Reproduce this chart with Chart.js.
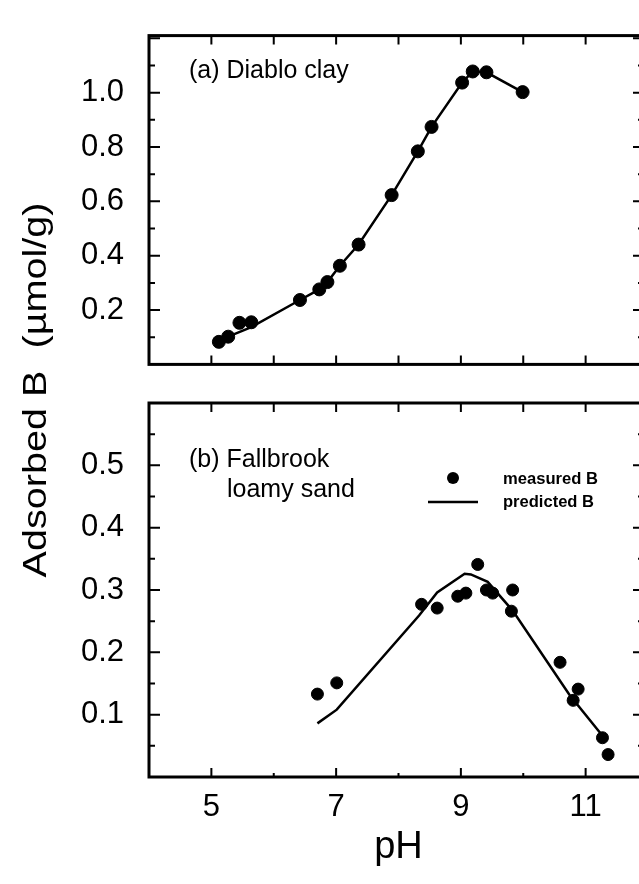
<!DOCTYPE html>
<html>
<head>
<meta charset="utf-8">
<script src="https://cdn.jsdelivr.net/npm/chart.js@4.4.0/dist/chart.umd.min.js"></script>
<style>
html, body { margin: 0; padding: 0; background: #fff; overflow: hidden; }
#wrap { position: relative; width: 660px; height: 884px; }
#wrap canvas { position: absolute; left: 0; top: 0; }
</style>
</head>
<body>
<div id="wrap">
  <canvas id="chartB" width="660" height="884"></canvas>
  <canvas id="chartA" width="660" height="400"></canvas>
</div>
<script>
// (a) Diablo clay
const phMeasuredA = [5.12, 5.27, 5.45, 5.64, 6.42, 6.73, 6.86, 7.06, 7.36, 7.89, 8.31, 8.53, 9.02, 9.19, 9.41, 9.99];
const bMeasuredA  = [0.083, 0.102, 0.153, 0.155, 0.237, 0.276, 0.303, 0.363, 0.441, 0.623, 0.784, 0.874, 1.037, 1.078, 1.075, 1.002];
const phPredictedA = [5.27, 5.64, 6.42, 6.73, 6.86, 7.06, 7.36, 7.89, 8.31, 8.53, 9.02, 9.19, 9.41, 9.99];
const bPredictedA  = [0.102, 0.137, 0.237, 0.276, 0.303, 0.363, 0.441, 0.623, 0.784, 0.874, 1.037, 1.078, 1.075, 1.002];

// (b) Fallbrook loamy sand
const phMeasuredB = [6.70, 7.01, 8.37, 8.62, 8.95, 9.08, 9.27, 9.41, 9.51, 9.83, 9.81, 10.59, 10.88, 10.80, 11.27, 11.36];
const bMeasuredB  = [0.133, 0.151, 0.277, 0.271, 0.290, 0.295, 0.341, 0.300, 0.295, 0.300, 0.266, 0.184, 0.141, 0.123, 0.063, 0.036];
const phPredictedB = [6.70, 7.01, 8.33, 8.62, 9.06, 9.16, 9.43, 9.83, 10.74, 11.28];
const bPredictedB  = [0.086, 0.108, 0.259, 0.296, 0.326, 0.325, 0.313, 0.267, 0.132, 0.065];

// tick labels
const xTickLabels = [5, 7, 9, 11];
const yTicksA = [0.2, 0.4, 0.6, 0.8, 1.0];
const yTicksB = [0.1, 0.2, 0.3, 0.4, 0.5];

const FONT = "'Liberation Sans', Arial, Helvetica, sans-serif";

function toXY(xs, ys) {
    return xs.map((x, i) => ({ x: x, y: ys[i] }));
}

// draws text, optionally squeezed/stretched to a given width
function putText(ctx, text, x, y, font, width, rotate) {
    ctx.save();
    ctx.font = font;
    ctx.translate(x, y);
    if (rotate) ctx.rotate(rotate);
    if (width) {
        const w = ctx.measureText(text).width;
        ctx.scale(width / w, 1);
    }
    ctx.fillText(text, 0, 0);
    ctx.restore();
}

// box round the plot and the inward ticks on all four sides
const framePlugin = {
    id: 'frame',
    afterDatasetsDraw(chart, args, opts) {
        const ctx = chart.ctx;
        const a = chart.chartArea;
        const x = chart.scales.x;
        const y = chart.scales.y;
        ctx.save();
        ctx.strokeStyle = '#000';
        ctx.lineWidth = 2;
        ctx.beginPath();
        for (let v = 5; v < 12; v++) {
            const px = x.getPixelForValue(v);
            const major = v % 2 === 1;
            const bl = opts.bottomMinorShort && !major ? 4 : 9;
            ctx.moveTo(px, a.bottom);
            ctx.lineTo(px, a.bottom - bl);
            ctx.moveTo(px, a.top);
            ctx.lineTo(px, a.top + 9);
        }
        for (let i = 1; i * opts.yStep < y.max - 1e-9; i++) {
            const py = y.getPixelForValue(i * opts.yStep);
            const major = i % 2 === 0;
            ctx.moveTo(a.left, py);
            ctx.lineTo(a.left + (major ? 11 : 6), py);
            ctx.moveTo(a.right, py);
            ctx.lineTo(a.right - (major ? 15 : 10), py);
        }
        ctx.stroke();
        ctx.lineWidth = 3;
        ctx.strokeRect(a.left, a.top, a.right - a.left, a.bottom - a.top);
        ctx.restore();
    }
};

// panel labels, legend and the shared y title
const notesPlugin = {
    id: 'notes',
    afterDraw(chart, args, opts) {
        const ctx = chart.ctx;
        ctx.save();
        ctx.fillStyle = '#000';
        ctx.textBaseline = 'alphabetic';
        ctx.textAlign = 'left';
        (opts.lines || []).forEach(l => {
            putText(ctx, l.text, l.x, l.y, '25px ' + FONT);
        });
        if (opts.legend) {
            const lg = opts.legend;
            ctx.beginPath();
            ctx.arc(lg.x + 25, lg.y, 6, 0, Math.PI * 2);
            ctx.fill();
            ctx.lineWidth = 2.5;
            ctx.beginPath();
            ctx.moveTo(lg.x, lg.y + 24);
            ctx.lineTo(lg.x + 50, lg.y + 24);
            ctx.stroke();
            putText(ctx, 'measured B', lg.x + 75, lg.y + 6, 'bold 16px ' + FONT, 95);
            putText(ctx, 'predicted B', lg.x + 75, lg.y + 29, 'bold 16px ' + FONT, 91);
        }
        if (opts.yTitle) {
            ctx.textAlign = 'center';
            ctx.textBaseline = 'middle';
            putText(ctx, 'Adsorbed B  (\u00b5mol/g)', 37, 390, '34px ' + FONT, 375, -Math.PI / 2);
        }
        ctx.restore();
    }
};

function datasets(phM, bM, phP, bP, r) {
    return [
        {
            label: 'predicted B',
            data: toXY(phP, bP),
            showLine: true,
            borderColor: '#000',
            borderWidth: 2.5,
            pointRadius: 0,
            fill: false
        },
        {
            label: 'measured B',
            data: toXY(phM, bM),
            showLine: false,
            backgroundColor: '#000',
            borderColor: '#000',
            pointRadius: r,
            pointHoverRadius: r
        }
    ];
}

function yScale(max, ticks) {
    return {
        type: 'linear',
        min: 0,
        max: max,
        afterFit: s => { s.width = 149; },
        afterBuildTicks: s => { s.ticks = ticks.map(v => ({ value: v })); },
        grid: { display: false },
        border: { display: false },
        ticks: {
            padding: 17,
            color: '#000',
            font: { family: FONT, size: 31 },
            callback: v => Number(v).toFixed(1)
        }
    };
}

Chart.defaults.font.family = FONT;

new Chart(document.getElementById('chartA'), {
    type: 'scatter',
    data: { datasets: datasets(phMeasuredA, bMeasuredA, phPredictedA, bPredictedA, 6.5) },
    options: {
        responsive: false,
        animation: false,
        events: [],
        layout: { padding: { top: 13.5, right: 12, bottom: 13.5, left: 0 } },
        plugins: {
            legend: { display: false },
            tooltip: { enabled: false },
            frame: { yStep: 0.1, bottomMinorShort: false },
            notes: { lines: [{ text: '(a) Diablo clay', x: 189, y: 78 }] }
        },
        scales: {
            x: { type: 'linear', min: 4, max: 12, display: false },
            y: yScale(1.21, yTicksA)
        }
    },
    plugins: [framePlugin, notesPlugin]
});

new Chart(document.getElementById('chartB'), {
    type: 'scatter',
    data: { datasets: datasets(phMeasuredB, bMeasuredB, phPredictedB, bPredictedB, 6) },
    options: {
        responsive: false,
        animation: false,
        events: [],
        layout: { padding: { top: 403, right: 12, bottom: 0, left: 0 } },
        plugins: {
            legend: { display: false },
            tooltip: { enabled: false },
            frame: { yStep: 0.05, bottomMinorShort: true },
            notes: {
                lines: [
                    { text: '(b) Fallbrook', x: 189, y: 467 },
                    { text: 'loamy sand', x: 227, y: 497 }
                ],
                legend: { x: 428, y: 478 },
                yTitle: true
            }
        },
        scales: {
            x: {
                type: 'linear',
                min: 4,
                max: 12,
                afterFit: s => { s.height = 107; },
                afterBuildTicks: s => { s.ticks = xTickLabels.map(v => ({ value: v })); },
                grid: { display: false },
                border: { display: false },
                ticks: {
                    padding: 4,
                    color: '#000',
                    maxRotation: 0,
                    font: { family: FONT, size: 31 },
                    callback: v => String(v)
                },
                title: {
                    display: true,
                    text: 'pH',
                    color: '#000',
                    font: { family: FONT, size: 38 },
                    padding: { top: 0, bottom: 14 }
                }
            },
            y: yScale(0.6, yTicksB)
        }
    },
    plugins: [framePlugin, notesPlugin]
});
</script>
</body>
</html>
